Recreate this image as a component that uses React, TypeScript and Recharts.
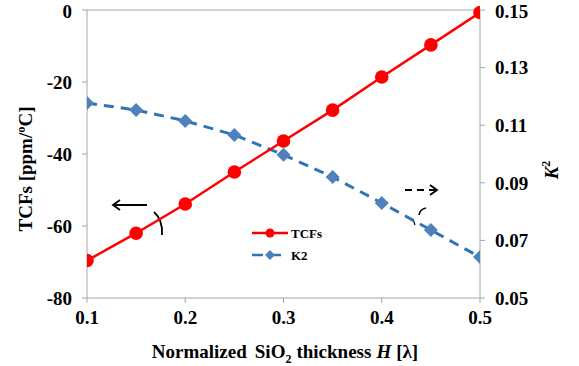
import React from 'react';
import { LineChart, Line, XAxis, YAxis, ReferenceLine, Customized } from 'recharts';

const thickness = [0.1, 0.15, 0.2, 0.25, 0.3, 0.35, 0.4, 0.45, 0.5];
const tcfs = [-69.6, -62, -53.9, -45, -36.4, -27.8, -18.6, -9.7, -0.7];
const k2 = [0.1177, 0.1153, 0.1115, 0.1066, 0.0997, 0.092, 0.083, 0.0736, 0.0642];
const xTicks = [0.1, 0.2, 0.3, 0.4, 0.5];
const leftTicks = [-80, -60, -40, -20, 0];
const rightTicks = [0.05, 0.07, 0.09, 0.11, 0.13, 0.15];

const data = thickness.map((h, i) => ({ h, tcf: tcfs[i], k2: k2[i] }));

const FONT = 'Liberation Serif, Times New Roman, DejaVu Serif, serif';
const AXIS = '#a6a6a6';
const RED = '#ff0000';
const BLUE_LINE = '#2e75b6';
const BLUE_MARK = '#4f81bd';

const tickStyle = { fontFamily: FONT, fontWeight: 700, fontSize: 19, fill: '#000', style: { fontFamily: FONT } };
const txt = { fontFamily: FONT, fontWeight: 700, fill: '#000', style: { fontFamily: FONT } } as any;

const Diamond = (props: any) => {
  const { cx, cy } = props;
  if (cx == null || cy == null) return null;
  const r = 7;
  return <path d={`M${cx},${cy - r} L${cx + r},${cy} L${cx},${cy + r} L${cx - r},${cy} Z`} fill={BLUE_MARK} />;
};

const RedDot = (props: any) => {
  const { cx, cy } = props;
  if (cx == null || cy == null) return null;
  return <circle cx={cx} cy={cy} r={6.8} fill={RED} />;
};

const Annotations = () => (
  <g>
    <line x1={147} y1={205} x2={113} y2={205} stroke="#000" strokeWidth={1.8} />
    <path d="M120,200 L113,205 L120,210" fill="none" stroke="#000" strokeWidth={1.8} />
    <path d="M154,212 Q163,220 162,235" fill="none" stroke="#000" strokeWidth={1.8} />
    <line x1={405} y1={190} x2={437} y2={190} stroke="#000" strokeWidth={1.8} strokeDasharray="7 5" />
    <path d="M430,185 L437,190 L430,195" fill="none" stroke="#000" strokeWidth={1.8} />
    <path d="M419,215 Q420,209 426,208" fill="none" stroke="#000" strokeWidth={1.5} />
    <line x1={413} y1={219} x2={415} y2={225} stroke="#000" strokeWidth={1.2} />
    <text {...txt} x={0} y={0} transform="translate(32,169) rotate(-90)" textAnchor="middle" fontSize={19}>
      TCFs [ppm/ºC]
    </text>
    <text {...txt} x={0} y={0} transform="translate(558,170) rotate(-90)" textAnchor="middle" fontSize={19}>
      <tspan fontStyle="italic">K</tspan>
      <tspan fontSize={12} dy={-8}>2</tspan>
    </text>
    <text {...txt} x={285} y={358} textAnchor="middle" fontSize={19}>
      <tspan>Normalized</tspan>
      <tspan dx={8}>SiO</tspan>
      <tspan fontSize={12} dy={5}>2</tspan>
      <tspan dy={-5} dx={5}>thickness</tspan>
      <tspan dx={5} fontStyle="italic">H</tspan>
      <tspan dx={5}>[λ]</tspan>
    </text>
    <line x1={252} y1={233} x2={288} y2={233} stroke={RED} strokeWidth={2.5} />
    <circle cx={270} cy={233} r={4.5} fill={RED} />
    <text {...txt} x={291} y={237.5} fontSize={13}>TCFs</text>
    <line x1={252} y1={255} x2={288} y2={255} stroke={BLUE_LINE} strokeWidth={2.5} strokeDasharray="11 7" />
    <path d="M270,250 L275,255 L270,260 L265,255 Z" fill={BLUE_MARK} />
    <text {...txt} x={291} y={259.5} fontSize={13}>K2</text>
  </g>
);

export default function App() {
  return (
    <div style={{ position: 'absolute', left: 0, top: 0, width: 579, height: 366, background: '#fff', fontFamily: FONT }}>
      <LineChart width={579} height={366} data={data} margin={{ top: 10, right: 0, bottom: 0, left: 0 }} style={{ fontFamily: FONT }}>
        <XAxis
          dataKey="h"
          type="number"
          domain={[0.1, 0.5]}
          ticks={xTicks}
          tickFormatter={(v: number) => v.toFixed(1)}
          height={68}
          stroke={AXIS}
          tickSize={5}
          tickMargin={8}
          tick={tickStyle}
          allowDataOverflow
        />
        <YAxis
          yAxisId="left"
          domain={[-80, 0]}
          ticks={leftTicks}
          width={87}
          stroke={AXIS}
          tickSize={5}
          tickMargin={10}
          tick={tickStyle}
        />
        <YAxis
          yAxisId="right"
          orientation="right"
          domain={[0.05, 0.15]}
          ticks={rightTicks}
          tickFormatter={(v: number) => v.toFixed(2)}
          width={99}
          stroke={AXIS}
          tickSize={5}
          tickMargin={10}
          tick={{ ...tickStyle, textAnchor: 'start' }}
        />
        <ReferenceLine yAxisId="left" y={0} stroke={AXIS} strokeWidth={1} />
        <Line
          yAxisId="right"
          dataKey="k2"
          stroke={BLUE_LINE}
          strokeWidth={3}
          strokeDasharray="10 7"
          dot={<Diamond />}
          isAnimationActive={false}
        />
        <Line
          yAxisId="left"
          dataKey="tcf"
          stroke={RED}
          strokeWidth={2.5}
          dot={<RedDot />}
          isAnimationActive={false}
        />
        <Customized component={Annotations} />
      </LineChart>
    </div>
  );
}
